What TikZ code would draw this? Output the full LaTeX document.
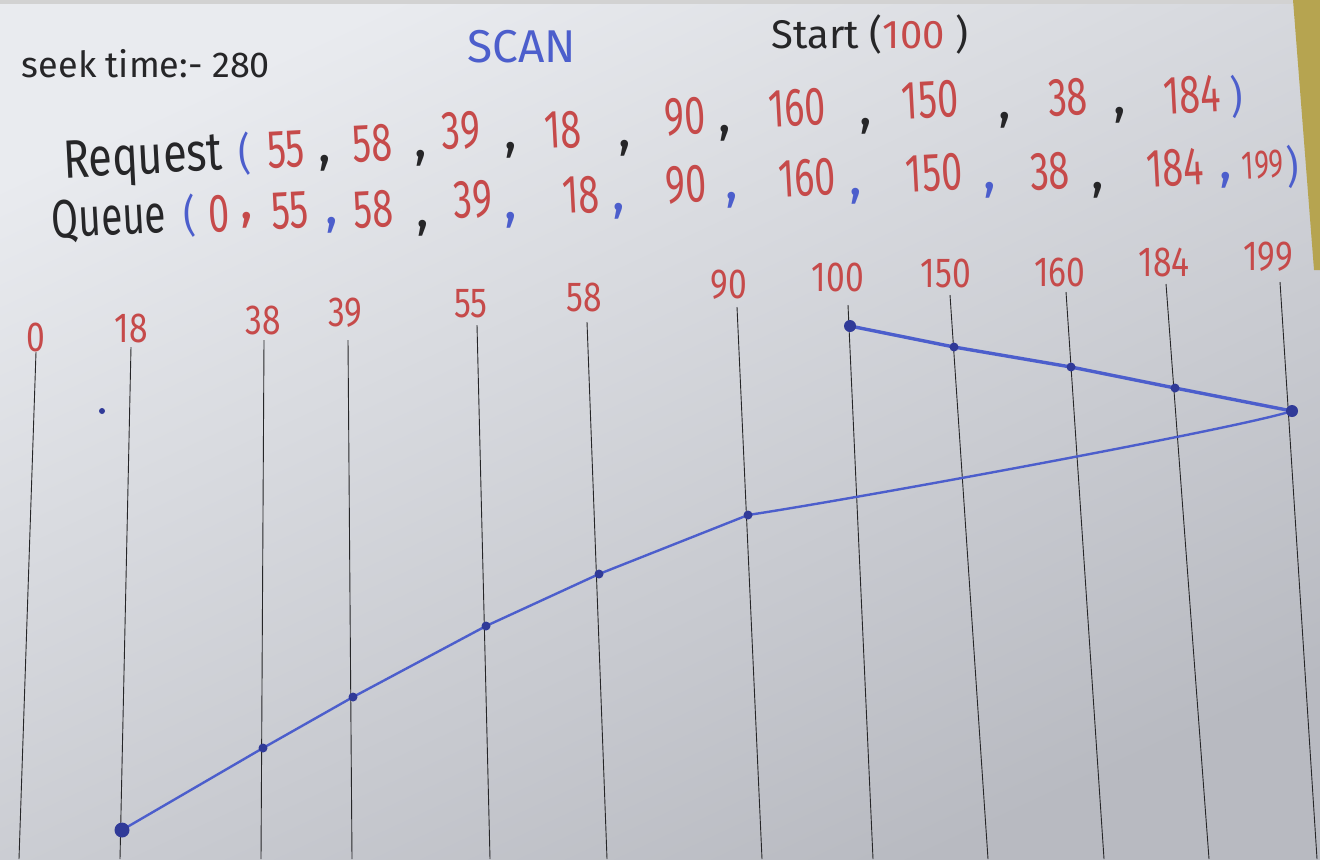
\documentclass[tikz,border=0pt]{standalone}
\usepackage{fontspec}
\setmainfont{Fira Sans}
\usetikzlibrary{positioning}
\definecolor{paper}{RGB}{233,235,239}
\definecolor{paperdark}{RGB}{184,186,193}
\definecolor{tape}{RGB}{182,164,80}
\definecolor{penred}{RGB}{198,74,74}
\definecolor{penblue}{RGB}{76,94,204}
\definecolor{inkblue}{RGB}{48,58,152}
\definecolor{pencil}{RGB}{38,38,40}
\tikzset{
  track/.style={pencil, line width=0.45pt},
  tracklabel/.style={penred, inner sep=0pt, xscale=0.8, font=\fontsize{21}{21}\selectfont},
  rowtext/.style={inner sep=0pt, rotate=3, font=\fontsize{27}{27}\selectfont},
  reqnum/.style={rowtext, penred, xscale=0.7},
  reqsep/.style={rowtext, pencil},
  bracket/.style={rowtext, penblue, xscale=0.85, font=\fontsize{22}{22}\selectfont},
  heading/.style={pencil, inner sep=0pt, font=\fontsize{18}{18}\selectfont},
  sweep/.style={penblue, line width=1.7pt, line join=round, line cap=round},
  sweepback/.style={penblue, line width=1.2pt, line join=round, line cap=round},
  headdot/.style={circle, fill=inkblue, inner sep=0pt, minimum size=#1},
  headdot/.default=4.5pt
}
\begin{document}
\begin{tikzpicture}[x=0.5pt, y=-0.5pt]
	\useasboundingbox (0,0) rectangle (1320,859);
	\shade[top color=paper, bottom color=paperdark, shading angle=25] (0,0) rectangle (1320,859);
	\fill[gray!35] (0,0) rectangle (1320,4);
	\fill[tape] (1293,0) -- (1320,0) -- (1320,270) -- (1314,270) -- cycle;

	\node[heading] (seek) at (146,64) {seek time:- 280};
	\node[penblue, inner sep=0pt, font=\fontsize{23}{23}\selectfont] (scan) at (522,47) {SCAN};
	\node[heading, font=\fontsize{20}{20}\selectfont] (start) at (870,34) {Start (\textcolor{penred}{100} )};

	\node[rowtext, pencil, xscale=0.8] (request) at (143,161) {Request};
	\node[bracket] (reqopen) at (245,154) {(};
	\foreach \v/\x/\y in {55/286/150, 58/372/143, 39/461/131, 18/563/130, 90/685/117,
		160/797/108, 150/930/100, 38/1068/97, 184/1192/95}
		\node[reqnum] (r\v) at (\x,\y) {\v};
	\foreach \x/\y in {325/163, 421/158, 511/150, 625/148, 725/133, 866/126, 1005/120, 1120/115}
		\node[reqsep] at (\x,\y) {,};
	\node[bracket] (reqclose) at (1237,97) {)};

	\node[rowtext, pencil, xscale=0.72] (queue) at (109,219) {Queue};
	\node[bracket] (qopen) at (190,216) {(};
	\foreach \v/\x/\y in {0/219/214, 55/290/211, 58/373/209, 39/473/200, 18/581/195, 90/686/185,
		160/807/178, 150/934/173, 38/1050/171, 184/1175/168}
		\node[reqnum] (q\v) at (\x,\y) {\v};
	\node[reqnum, font=\fontsize{20}{20}\selectfont] (q199) at (1263,165) {199};
	\node[reqsep, penred] at (247,220) {,};
	\foreach \x/\y in {332/225, 511/220, 619/211, 732/200, 856/196, 990/190, 1226/180}
		\node[reqsep, penblue] at (\x,\y) {,};
	\foreach \x/\y in {423/228, 1098/190}
		\node[reqsep] at (\x,\y) {,};
	\node[bracket] (qclose) at (1293,167) {)};

	\foreach \lab/\tx/\ty/\bx/\lx/\ly in {0/36/352/19/36/337, 18/131/347/120/131/328,
		38/264/340/261/263/320, 39/348/340/352/345/313, 55/477/325/490/471/304,
		58/587/322/607/584/297, 90/737/307/762/729/285, 100/848/305/873/838/277,
		150/950/295/988/946/273, 160/1066/292/1104/1060/272, 184/1166/284/1209/1164/262,
		199/1280/282/1317/1268/257}
	{
		\draw[track] (\tx,\ty) coordinate (t\lab) -- (\bx,859) coordinate (b\lab);
		\node[tracklabel] (l\lab) at (\lx,\ly) {\lab};
	}

	\coordinate (p100) at (850,326);
	\coordinate (p150) at (954,347);
	\coordinate (p160) at (1071,367);
	\coordinate (p184) at (1175,388);
	\coordinate (p199) at (1292,411);
	\coordinate (p90) at (748,515);
	\coordinate (p58) at (599,574);
	\coordinate (p55) at (486,626);
	\coordinate (p39) at (353,697);
	\coordinate (p38) at (263,748);
	\coordinate (p18) at (122,830);

	\draw[sweep] (p100) -- (p150) -- (p160) -- (p184) -- (p199);
	\draw[sweepback] (p199) .. controls (1240,428) and (860,498) .. (p90)
		-- (p58) -- (p55) -- (p39) -- (p38) -- (p18);
	\foreach \p in {p150, p160, p184, p90, p58, p55, p39, p38}
		\node[headdot] at (\p) {};
	\node[headdot=6pt] at (p100) {};
	\node[headdot=6pt] at (p199) {};
	\node[headdot=7.5pt] at (p18) {};
	\node[headdot=3pt] (stray) at (102,411) {};
\end{tikzpicture}
\end{document}
